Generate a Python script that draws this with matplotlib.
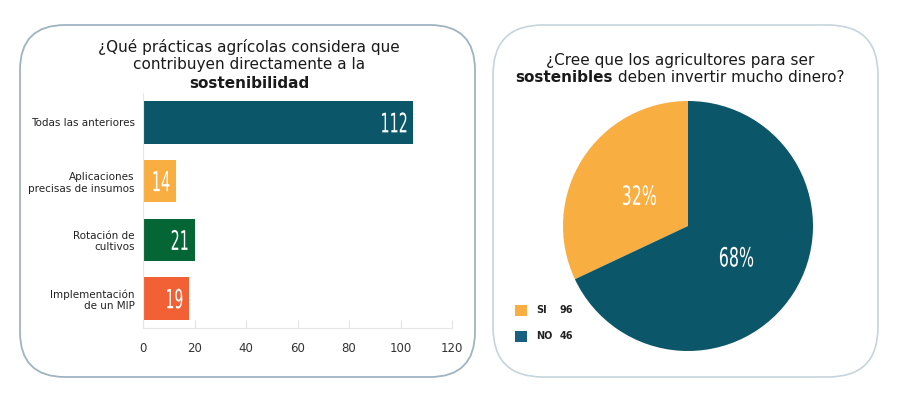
import matplotlib
matplotlib.use("Agg")
import matplotlib.pyplot as plt
from matplotlib.patches import FancyBboxPatch, Rectangle, PathPatch
from matplotlib.textpath import TextPath
from matplotlib.font_manager import FontProperties
from matplotlib.transforms import Affine2D, IdentityTransform

# left chart: counts printed on the bars, bar lengths as read on the axis
practicas = ["Todas las anteriores", "Aplicaciones\nprecisas de insumos",
             "Rotación de\ncultivos", "Implementación\nde un MIP"]
conteos = [112, 14, 21, 19]
largo_barras = [105, 13, 20, 18]
colores_barras = ["#0b5769", "#f9ae42", "#036634", "#f26135"]
ticks_x = [0, 20, 40, 60, 80, 100, 120]

# right chart: pie
porcentajes = [32, 68]
colores_pie = ["#f9ae42", "#0b5769"]
leyenda = ["SI", "NO"]
leyenda_n = [96, 46]
colores_leyenda = ["#f9ae42", "#1a5e80"]

W, H = 900, 400
fig = plt.figure(figsize=(9, 4), dpi=100)
fig.patch.set_facecolor("white")

def px(x, y, w, h):
    # pixel box (top-left origin) -> figure fraction
    return [x / W, 1 - (y + h) / H, w / W, h / H]

def condensed(xd, yd, s, h=20, sx=0.53, ha="center", dx=0):
    """white condensed text at display point (xd, yd), glyph height h px"""
    tp = TextPath((0, 0), s, size=20, prop=FontProperties(family="DejaVu Sans"))
    ext = tp.get_extents()
    k = h / ext.height
    w = ext.width * k * sx
    x0 = xd - w + dx if ha == "right" else xd - w / 2 + dx
    t = (Affine2D().translate(-ext.x0, -ext.y0).scale(k * sx, k)
         .translate(x0, yd - h / 2))
    fig.add_artist(PathPatch(t.transform_path(tp), transform=IdentityTransform(),
                             fc="white", ec="none", zorder=5))

# rounded panels (in inches so corners stay round)
tr = fig.dpi_scale_trans
fig.add_artist(FancyBboxPatch((0.20, 0.23), 4.55, 3.52, boxstyle="round,pad=0,rounding_size=0.45",
                              transform=tr, fc="white", ec="#9fb4c0", lw=1.3, zorder=0))
fig.add_artist(FancyBboxPatch((4.93, 0.23), 3.85, 3.52, boxstyle="round,pad=0,rounding_size=0.5",
                              transform=tr, fc="white", ec="#c6d4db", lw=1.2, zorder=0))

# ---- bar chart ----
ax = fig.add_axes(px(143, 93, 309, 235))
y = range(len(practicas))
ax.barh(y, largo_barras, height=0.72, color=colores_barras)
ax.set_ylim(3.5, -0.5)
ax.set_xlim(0, 120)
ax.set_yticks(list(y))
ax.set_yticklabels(practicas, fontsize=7.5, color="#222222")
ax.set_xticks(ticks_x)
ax.tick_params(axis="x", direction="in", length=6, color="#e3e3e3", labelsize=8.5,
               labelcolor="#333333", pad=10)
ax.tick_params(axis="y", length=0, pad=6)
for s in ["top", "right"]:
    ax.spines[s].set_visible(False)
ax.spines["left"].set_color("#e6e6e6")
ax.spines["bottom"].set_color("#e6e6e6")
ax.patch.set_alpha(0)

for i, (v, n) in enumerate(zip(largo_barras, conteos)):
    xd, yd = ax.transData.transform((v, i))
    condensed(xd, yd, str(n), ha="right", dx=-7)

fig.text(249 / W, 1 - 47 / H, "¿Qué prácticas agrícolas considera que", ha="center", va="center",
         fontsize=11, color="#1a1a1a")
fig.text(249 / W, 1 - 65 / H, "contribuyen directamente a la", ha="center", va="center",
         fontsize=11, color="#1a1a1a")
fig.text(249 / W, 1 - 83 / H, "sostenibilidad", ha="center", va="center",
         fontsize=11, color="#1a1a1a", weight="bold")

# ---- pie chart ----
ax2 = fig.add_axes(px(688 - 125, 226 - 125, 250, 250))
wedges, _, autot = ax2.pie(porcentajes, colors=colores_pie, startangle=90, counterclock=True,
                           autopct="%d%%", pctdistance=0.46)
ax2.set_xlim(-1, 1)
ax2.set_ylim(-1, 1)
for t in autot:
    xd, yd = ax2.transData.transform(t.get_position())
    condensed(xd, yd, t.get_text(), h=20, sx=0.6)
    t.set_visible(False)

fig.text(680 / W, 1 - 60 / H, "¿Cree que los agricultores para ser", ha="center", va="center",
         fontsize=11, color="#1a1a1a")
t1 = fig.text(0, 1 - 78 / H, "sostenibles", ha="left", va="center", fontsize=11,
              color="#1a1a1a", weight="bold")
t2 = fig.text(0, 1 - 78 / H, " deben invertir mucho dinero?", ha="left", va="center",
              fontsize=11, color="#1a1a1a")
r = fig.canvas.get_renderer()
w1 = t1.get_window_extent(r).width
w2 = t2.get_window_extent(r).width
x0 = 680 - (w1 + w2) / 2
t1.set_x(x0 / W)
t2.set_x((x0 + w1) / W)

for i, (lab, n, c) in enumerate(zip(leyenda, leyenda_n, colores_leyenda)):
    yy = 310 + i * 26
    fig.add_artist(Rectangle(((515) / W, 1 - (yy + 6) / H), 12 / W, 11 / H,
                             transform=fig.transFigure, fc=c, ec="none"))
    fig.text(536 / W, 1 - yy / H, lab, ha="left", va="center", fontsize=7, color="#222222",
             weight="bold")
    fig.text(560 / W, 1 - yy / H, str(n), ha="left", va="center", fontsize=7, color="#222222",
             weight="bold")

fig.savefig("out.png", dpi=100, facecolor="white")
